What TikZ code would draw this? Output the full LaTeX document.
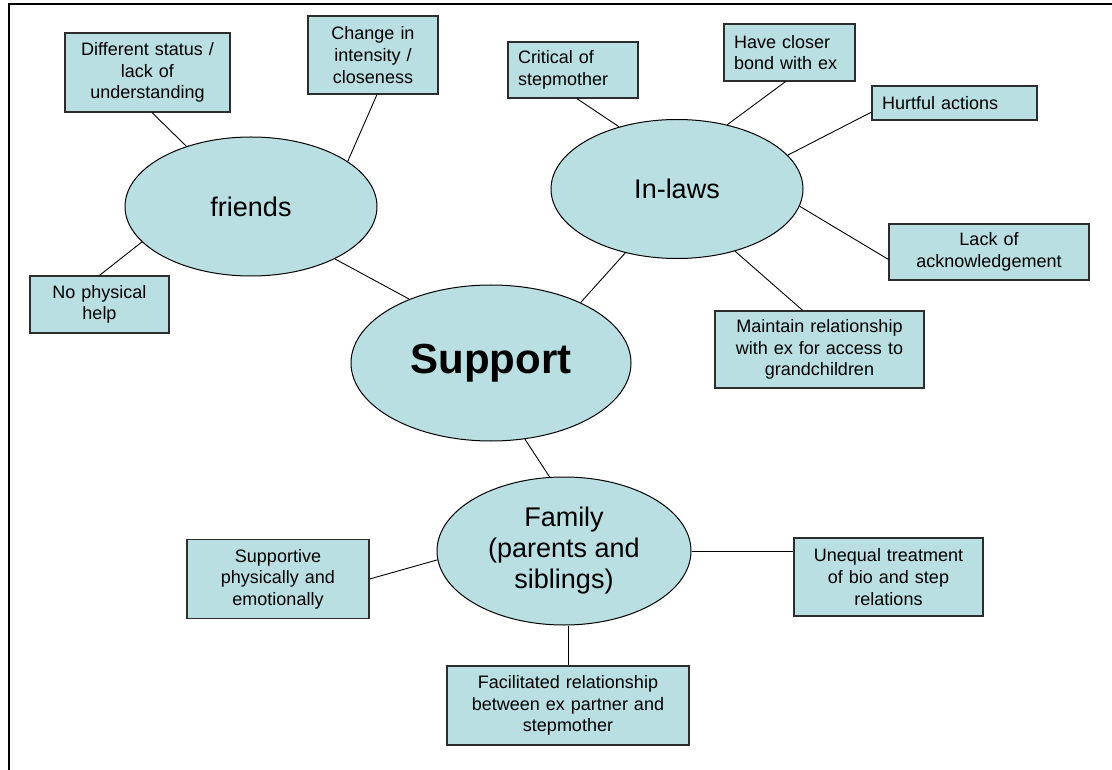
\documentclass[tikz,border=0pt]{standalone}
\usepackage{fontspec}
\setmainfont{Liberation Sans}
\usetikzlibrary{shapes.geometric,calc}
\definecolor{boxfill}{RGB}{185,223,227}
\definecolor{boxline}{RGB}{45,45,45}
\tikzset{
  boxnode/.style={draw=boxline, fill=boxfill, line width=1.2pt, inner xsep=10pt, inner ysep=0pt,
    font=\fontsize{18}{21.6}\selectfont},
  ellnode/.style={ellipse, draw=black, fill=boxfill, line width=1pt, inner sep=0pt,
    font=\fontsize{27}{31}\selectfont, align=center},
  link/.style={line width=0.9pt, black},
  frame/.style={line width=2pt, black}
}
\begin{document}
\begin{tikzpicture}[x=1pt,y=-1pt]
\useasboundingbox (0,0) rectangle (1112,770);
\fill[white] (0,0) rectangle (1112,770);
\draw[frame] (1112,4.5) -- (9,4.5) -- (9,770);

% ellipses
\node[ellnode, minimum width=252pt, minimum height=139pt] (friends) at (251,206.5) {friends};
\node[ellnode, minimum width=252pt, minimum height=139pt] (inlaws) at (677,189) {In-laws};
\node[ellnode, minimum width=280pt, minimum height=156pt, font=\fontsize{42}{48}\selectfont\bfseries] (support) at (491,363) {Support};
\node[ellnode, minimum width=254pt, minimum height=148pt] (family) at (564,551) {Family\\(parents and\\siblings)};

% boxes
\node[boxnode, text width=145pt, minimum height=79pt, align=center] (diff) at (147.5,72.5) {Different status /\\lack of\\understanding};
\node[boxnode, text width=110pt, minimum height=78pt, align=center] (change) at (373,55) {Change in\\intensity /\\closeness};
\node[boxnode, text width=110pt, minimum height=56pt, align=left] (critical) at (573,70) {Critical of\\stepmother};
\node[boxnode, text width=111pt, minimum height=57pt, align=left] (closer) at (789.5,52.5) {Have closer\\bond with ex};
\node[boxnode, text width=145pt, minimum height=34pt, align=left] (hurtful) at (954.5,103) {Hurtful actions};
\node[boxnode, text width=180pt, minimum height=56pt, align=center] (lackack) at (989,252) {Lack of\\acknowledgement};
\node[boxnode, text width=189pt, minimum height=77pt, align=center] (maintain) at (819.5,349.5) {Maintain relationship\\with ex for access to\\grandchildren};
\node[boxnode, text width=119pt, minimum height=57pt, align=center] (nophys) at (99.5,304.5) {No physical\\help};
\node[boxnode, text width=162pt, minimum height=79pt, align=center] (supportive) at (278,579) {Supportive\\physically and\\emotionally};
\node[boxnode, text width=169pt, minimum height=78pt, align=center] (unequal) at (888.5,577) {Unequal treatment\\of bio and step\\relations};
\node[boxnode, text width=222pt, minimum height=79pt, align=center] (facil) at (568,705.5) {Facilitated relationship\\between ex partner and\\stepmother};

% connectors: friends
\draw[link] ($(diff.south west)!0.527!(diff.south east)$) -- (friends.137);
\draw[link] ($(change.south west)!0.53!(change.south east)$) -- (friends.25);
\draw[link] (nophys.north) -- (friends.198);
\draw[link] (friends.328) -- (support.142);
% connectors: in-laws
\draw[link] ($(critical.south west)!0.53!(critical.south east)$) -- (inlaws.133);
\draw[link] ($(closer.south west)!0.47!(closer.south east)$) -- (inlaws.52);
\draw[link] ($(hurtful.north west)!0.76!(hurtful.south west)$) -- (inlaws.17);
\draw[link] ($(lackack.north west)!0.63!(lackack.south west)$) -- (inlaws.352);
\draw[link] ($(maintain.north west)!0.42!(maintain.north east)$) -- (inlaws.313);
\draw[link] (inlaws.231) -- (support.34);
% connectors: family
\draw[link] (support.294) -- (family.101);
\draw[link] (supportive.east) -- (family.184.5);
\draw[link] (family.east) -- (family.east -| unequal.west);
\draw[link] (facil.north) -- (family.south -| facil.north);
\end{tikzpicture}
\end{document}
